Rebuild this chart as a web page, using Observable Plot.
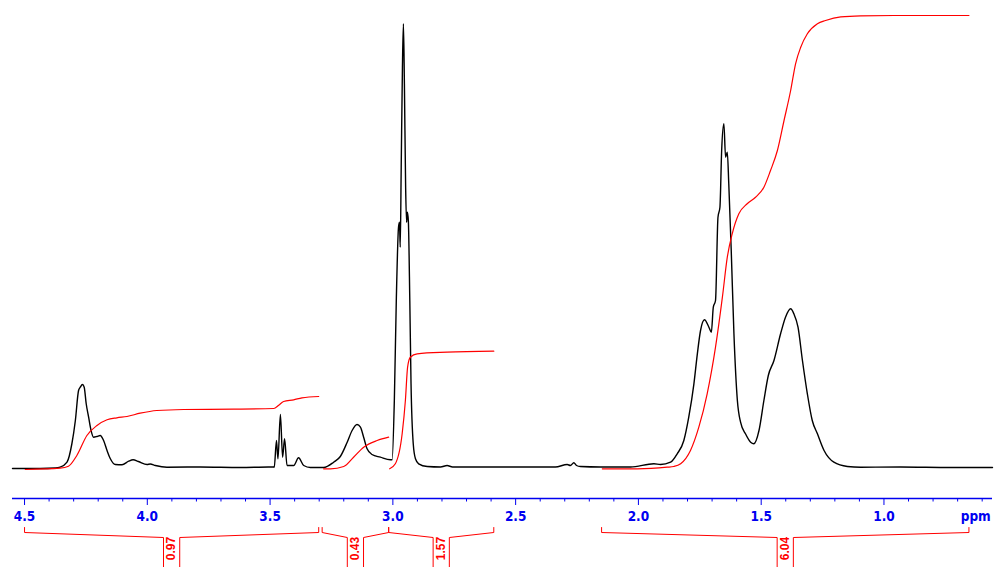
<!DOCTYPE html>
<html>
<head>
<meta charset="utf-8">
<script src="https://cdn.jsdelivr.net/npm/d3@7"></script>
<script src="https://cdn.jsdelivr.net/npm/@observablehq/plot@0.6"></script>
<style>
  html, body { margin: 0; padding: 0; background: #fff; overflow: hidden; }
  #chart svg { display: block; }
</style>
</head>
<body>
<div id="chart"></div>
<script>
// 1H spectrum, [ppm, intensity]
const spectrum = [
  [4.549, -1], [4.436, -1], [4.375, -0.5], [4.355, 0.3], [4.327, 5.3], [4.307, 24],
  [4.293, 47], [4.280, 77], [4.273, 80.3], [4.264, 83], [4.257, 80.3], [4.249, 64],
  [4.239, 50.3], [4.229, 37], [4.219, 30.3], [4.205, 31], [4.192, 32], [4.178, 27],
  [4.164, 17], [4.151, 9], [4.130, 3], [4.103, 2.7], [4.076, 6.3], [4.058, 7.7],
  [4.036, 6], [4.001, 3], [3.988, 3.5], [3.967, 2], [3.920, 0.3], [3.784, 0.5],
  [3.621, 0], [3.507, 0.5], [3.485, 0.5], [3.483, 0.3], [3.474, 27], [3.468, 8.7],
  [3.458, 53], [3.449, 10.3], [3.441, 28.7], [3.431, 2], [3.404, 2], [3.384, 9.7],
  [3.363, 2], [3.336, 0], [3.282, 0], [3.241, 5.3], [3.214, 11], [3.186, 25.3],
  [3.166, 37], [3.146, 43], [3.132, 40.3], [3.119, 30.3], [3.105, 18.7], [3.085, 13],
  [3.051, 10.3], [3.010, 7.7], [3.003, 7.7], [2.994, 67], [2.986, 167], [2.977, 240.3],
  [2.973, 245.3], [2.970, 220.3], [2.966, 300.3], [2.961, 400.3], [2.957, 443.7],
  [2.953, 383.7], [2.948, 280.3], [2.944, 245.3], [2.941, 255.3], [2.937, 247],
  [2.931, 167], [2.926, 83.7], [2.917, 23.7], [2.908, 8.7], [2.895, 3.7], [2.860, 1],
  [2.806, 0.5], [2.779, 2], [2.757, 0.5], [2.643, 0.5], [2.480, 0.5], [2.338, 0.5],
  [2.290, 3], [2.277, 2], [2.263, 4.7], [2.252, 2], [2.236, 1], [2.154, 0.5],
  [2.032, 0.5], [1.937, 3.7], [1.910, 3], [1.869, 5.3], [1.842, 13.7], [1.815, 27],
  [1.795, 50.3], [1.774, 83.7], [1.760, 113.7], [1.747, 137], [1.731, 147.7],
  [1.713, 140.3], [1.703, 135.3], [1.695, 160.3], [1.686, 167], [1.676, 250.3],
  [1.668, 260.3], [1.661, 317], [1.652, 343.7], [1.645, 310.3], [1.638, 315.3],
  [1.632, 283.7], [1.622, 217], [1.611, 133.7], [1.597, 67], [1.584, 45.3],
  [1.564, 33.7], [1.543, 25.3], [1.530, 23.7], [1.509, 37], [1.489, 67], [1.471, 92],
  [1.448, 107], [1.421, 133.7], [1.401, 150.3], [1.380, 158.7], [1.367, 153.7],
  [1.350, 140.3], [1.332, 107], [1.312, 73.7], [1.292, 47], [1.271, 33.7],
  [1.244, 17], [1.204, 5.3], [1.149, 1], [1.095, 0.3], [0.932, 0.5], [0.728, 0],
  [0.558, 0]
];

// integral curves (same units as the spectrum)
const int1 = [
  [4.497, -2], [4.355, -0.7], [4.321, 1.3], [4.287, 12], [4.246, 32], [4.205, 42],
  [4.164, 47.7], [4.124, 49.7], [4.083, 51], [4.029, 54.3], [3.961, 57], [3.852, 58],
  [3.648, 58.3], [3.485, 59], [3.465, 62.3], [3.445, 66], [3.404, 67.7],
  [3.370, 69.7], [3.302, 71]
];
const int2 = [
  [3.282, -1.3], [3.254, -1.3], [3.200, 1], [3.160, 10.3], [3.119, 20.3],
  [3.064, 27], [3.017, 30.3]
];
const int3 = [
  [3.013, -1.3], [2.990, 3.7], [2.962, 34], [2.949, 67], [2.940, 100.3],
  [2.929, 110.3], [2.901, 113.7], [2.779, 115.3], [2.589, 116.3]
];
const int4 = [
  [2.147, -1.3], [2.005, -1.3], [1.883, 0.3], [1.856, 1], [1.828, 3.7], [1.788, 17],
  [1.754, 40.3], [1.720, 73.7], [1.686, 120.3], [1.658, 170.3], [1.638, 210.3],
  [1.618, 233.7], [1.591, 253.7], [1.557, 263.7], [1.523, 270.3], [1.489, 280.3],
  [1.462, 297], [1.434, 317], [1.407, 347], [1.380, 377], [1.360, 403.7],
  [1.339, 420.3], [1.312, 433.7], [1.271, 443.7], [1.238, 447], [1.176, 450.7],
  [1.095, 451.7], [0.959, 452], [0.654, 452]
];

// integration regions and their printed values
const regionFrom = [4.50, 3.288, 3.017, 2.150];
const regionTo = [3.302, 3.017, 2.589, 0.654];
const regionLabel = ["0.97", "0.43", "1.57", "6.04"];

const majorTicks = [4.5, 4.0, 3.5, 3.0, 2.5, 2.0, 1.5, 1.0];
const minorTicks = [4.4, 4.3, 4.2, 4.1, 3.9, 3.8, 3.7, 3.6, 3.4, 3.3, 3.2, 3.1,
  2.9, 2.8, 2.7, 2.6, 2.4, 2.3, 2.2, 2.1, 1.9, 1.8, 1.7, 1.6, 1.4, 1.3, 1.2, 1.1,
  0.9, 0.8, 0.7, 0.6];

const blue = "#0000f0";
const red = "#ff0000";
const axisFont = "'DejaVu Sans Condensed', 'DejaVu Sans', sans-serif";

const integralRows = [int1, int2, int3, int4]
  .flatMap((seg, k) => seg.map(([ppm, v]) => ({ppm, v, k})));

// bracket drawn under the axis for each region
const axisY = -31;
const gap = 0.033; // half the opening that holds the label
const brackets = regionFrom.flatMap((from, k) => {
  const to = regionTo[k];
  const mid = (from + to) / 2;
  return [
    [from, -60], [from, -65], [mid + gap, -70], [mid + gap, -100]
  ].map(([ppm, v]) => ({ppm, v, z: k + "a"})).concat(
    [[mid - gap, -100], [mid - gap, -70], [to, -65], [to, -60]]
      .map(([ppm, v]) => ({ppm, v, z: k + "b"})));
});
const labels = regionLabel.map((t, k) => ({t, ppm: (regionFrom[k] + regionTo[k]) / 2}));

const chart = Plot.plot({
  width: 1000,
  height: 567,
  marginLeft: 12,
  marginRight: 8,
  marginTop: 0,
  marginBottom: 69,
  style: {background: "#fff"},
  x: {domain: [4.549, 0.558], axis: null},
  y: {domain: [axisY, 467], axis: null},
  marks: [
    Plot.line(spectrum, {x: d => d[0], y: d => d[1], stroke: "black", strokeWidth: 1.4, curve: "monotone-x"}),
    Plot.line(integralRows, {x: "ppm", y: "v", z: "k", stroke: red, strokeWidth: 1.2, curve: "monotone-x"}),
    Plot.ruleY([axisY], {stroke: blue, strokeWidth: 1.3}),
    Plot.ruleX(minorTicks, {x: d => d, y1: axisY, y2: axisY - 3.5, stroke: blue}),
    Plot.axisX(majorTicks, {
      tickSize: 7,
      tickPadding: 6,
      tickFormat: d3.format(".1f"),
      stroke: blue,
      fill: blue,
      fontFamily: axisFont,
      fontWeight: "bold",
      fontSize: 13.5,
      label: null
    }),
    Plot.text(["ppm"], {x: 0.565, y: -49, text: d => d, textAnchor: "end", lineAnchor: "middle",
      fill: blue, fontFamily: axisFont, fontWeight: "bold", fontSize: 13.5}),
    Plot.line(brackets, {x: "ppm", y: "v", z: "z", stroke: red, strokeWidth: 1}),
    Plot.text(labels, {x: "ppm", y: -81, text: "t", rotate: -90, textAnchor: "middle", lineAnchor: "middle",
      fill: red, fontFamily: "Liberation Sans", fontWeight: "bold", fontSize: 12})
  ]
});

d3.select("#chart").append(() => chart);
</script>
</body>
</html>
